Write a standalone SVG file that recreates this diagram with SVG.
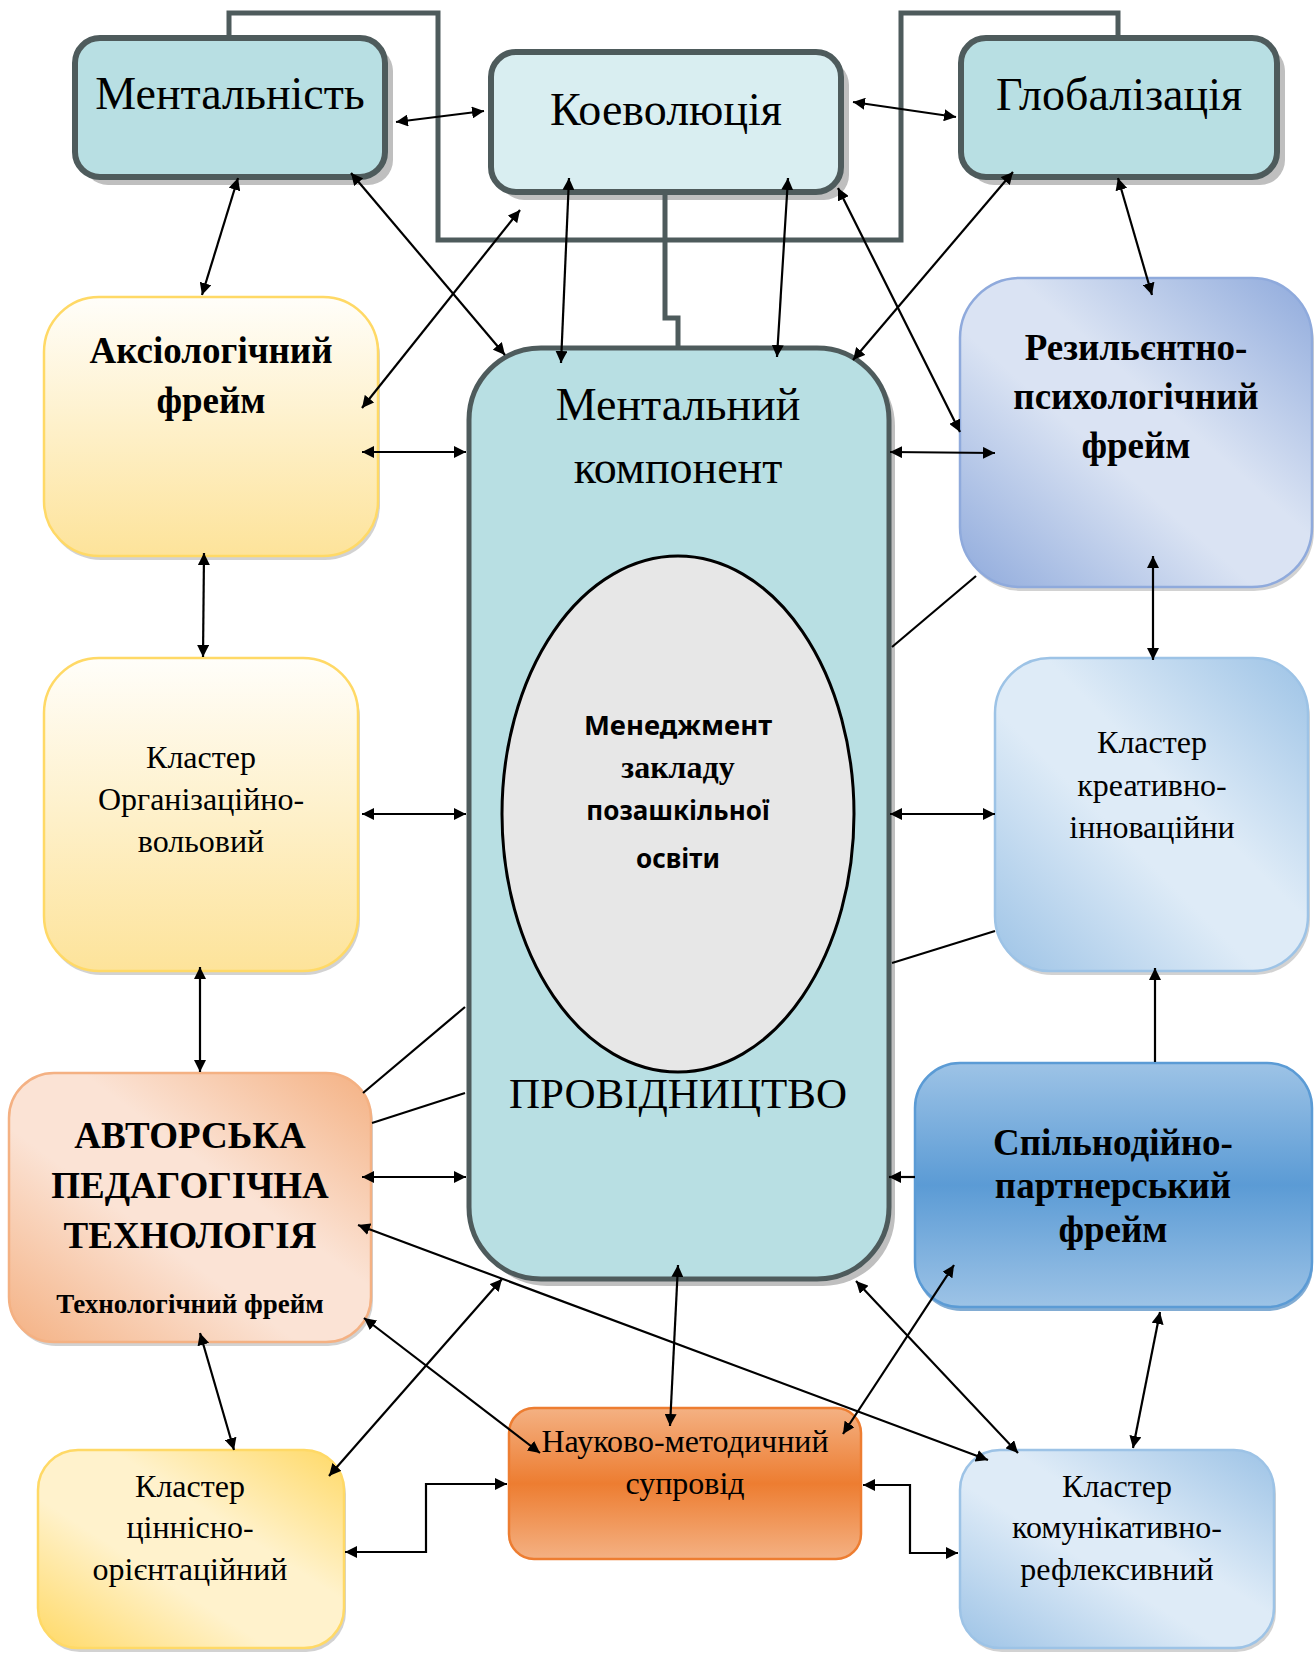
<svg xmlns="http://www.w3.org/2000/svg" width="1315" height="1654" viewBox="0 0 1315 1654">
<style>
.serif{font-family:"Liberation Serif","Times New Roman",serif;fill:#000;text-anchor:middle}
.top{font-size:46px}
.big{font-size:46px}
.bold{font-weight:bold;font-size:37px}
.reg{font-size:32px}
.sans{font-family:"Noto Sans","Open Sans",sans-serif;font-weight:bold;font-size:26px;text-anchor:middle}
.dark{stroke:#4e5b5c;stroke-width:6}
.shadow{fill:#bfbfbf}
.soft{fill:#7f7f7f;fill-opacity:0.35}
.conn line,.conn polyline{stroke:#000;stroke-width:2.2;fill:none}
.bi{marker-start:url(#ah);marker-end:url(#ah)}
.one{marker-end:url(#ah)}
.conn .frame{stroke:#4e5b5c;stroke-width:5;fill:none}
</style>
<defs>
<marker id="ah" viewBox="0 0 12 12" refX="12" refY="6" markerWidth="12" markerHeight="12" markerUnits="userSpaceOnUse" orient="auto-start-reverse"><path d="M0,0 L12,6 L0,12 z" fill="#000"/></marker>
<linearGradient id="gYellowV" x1="0" y1="0" x2="0" y2="1"><stop offset="0" stop-color="#fffefa"/><stop offset="1" stop-color="#fde39a"/></linearGradient>
<linearGradient id="gYellowD" x1="1" y1="0" x2="0" y2="1"><stop offset="0" stop-color="#ffd966"/><stop offset="0.38" stop-color="#fff2cc"/><stop offset="0.62" stop-color="#fff2cc"/><stop offset="1" stop-color="#ffd966"/></linearGradient>
<linearGradient id="gPeachD" x1="1" y1="0" x2="0" y2="1"><stop offset="0" stop-color="#f4b183"/><stop offset="0.4" stop-color="#fbe3d5"/><stop offset="0.6" stop-color="#fbe3d5"/><stop offset="1" stop-color="#f4b183"/></linearGradient>
<linearGradient id="gBlueFrame" x1="1" y1="0" x2="0" y2="1"><stop offset="0" stop-color="#8faadc"/><stop offset="0.42" stop-color="#dae3f3"/><stop offset="0.58" stop-color="#dae3f3"/><stop offset="1" stop-color="#8faadc"/></linearGradient>
<linearGradient id="gBlueLight" x1="1" y1="0" x2="0" y2="1"><stop offset="0" stop-color="#9dc3e6"/><stop offset="0.42" stop-color="#deebf7"/><stop offset="0.58" stop-color="#deebf7"/><stop offset="1" stop-color="#9dc3e6"/></linearGradient>
<linearGradient id="gBlueV" x1="0" y1="0" x2="0" y2="1"><stop offset="0" stop-color="#9dc3e6"/><stop offset="0.5" stop-color="#5b9bd5"/><stop offset="1" stop-color="#9dc3e6"/></linearGradient>
<linearGradient id="gOrangeV" x1="0" y1="0" x2="0" y2="1"><stop offset="0" stop-color="#f4b183"/><stop offset="0.5" stop-color="#ed7d31"/><stop offset="1" stop-color="#f4b183"/></linearGradient>
</defs>
<rect width="1315" height="1654" fill="#fff"/>

<g id="mentalnist">
<rect class="shadow" x="83" y="46" width="310" height="139" rx="25"/>
<rect class="dark" x="75" y="38" width="310" height="139" rx="25" fill="#b8dfe3"/>
<text class="serif top" x="230" y="109">Ментальність</text>
</g>
<g id="koevoliutsiia">
<rect class="shadow" x="499" y="60" width="350" height="140" rx="25"/>
<rect class="dark" x="491" y="52" width="350" height="140" rx="25" fill="#d9eef1"/>
<text class="serif top" x="666" y="125">Коеволюція</text>
</g>
<g id="hlobalizatsiia">
<rect class="shadow" x="969" y="46" width="316" height="139" rx="25"/>
<rect class="dark" x="961" y="38" width="316" height="139" rx="25" fill="#b8dfe3"/>
<text class="serif top" x="1119" y="110">Глобалізація</text>
</g>

<g id="mentalnyi-komponent">
<rect class="shadow" x="475" y="354" width="420" height="932" rx="72"/>
<rect x="469" y="348" width="420" height="931" rx="72" fill="#b8dfe3" stroke="#4e5b5c" stroke-width="5"/>
<text class="serif big" x="678" y="420">Ментальний</text>
<text class="serif big" x="678" y="483">компонент</text>
<text class="serif" x="678" y="1108" style="font-size:43px">ПРОВІДНИЦТВО</text>
</g>
<g id="menedzhment">
<ellipse cx="678" cy="814" rx="176" ry="258" fill="#e7e7e7" stroke="#000" stroke-width="3"/>
<text class="sans" x="678" y="735" style="font-size:27.5px">Менеджмент</text>
<text class="serif" x="678" y="778" style="font-size:32px;font-weight:bold">закладу</text>
<text class="sans" x="678" y="820">позашкільної</text>
<text class="sans" x="678" y="868">освіти</text>
</g>

<g id="aksiolohichnyi">
<rect class="soft" x="46" y="301" width="334" height="259" rx="55"/>
<rect x="44" y="297" width="334" height="259" rx="55" fill="url(#gYellowV)" stroke="#ffd966" stroke-width="2.5"/>
<text class="serif bold" x="211" y="363">Аксіологічний</text>
<text class="serif bold" x="211" y="413">фрейм</text>
</g>
<g id="orhanizatsiino">
<rect class="soft" x="46" y="662" width="314" height="313" rx="55"/>
<rect x="44" y="658" width="314" height="313" rx="55" fill="url(#gYellowV)" stroke="#ffd966" stroke-width="2.5"/>
<text class="serif reg" x="201" y="768">Кластер</text>
<text class="serif reg" x="201" y="810">Організаційно-</text>
<text class="serif reg" x="201" y="852">вольовий</text>
</g>
<g id="avtorska">
<rect class="soft" x="11" y="1077" width="362" height="269" rx="45"/>
<rect x="9" y="1073" width="362" height="269" rx="45" fill="url(#gPeachD)" stroke="#f4b183" stroke-width="2.5"/>
<text class="serif bold" x="190" y="1148">АВТОРСЬКА</text>
<text class="serif bold" x="190" y="1198">ПЕДАГОГІЧНА</text>
<text class="serif bold" x="190" y="1248">ТЕХНОЛОГІЯ</text>
<text class="serif" x="190" y="1313" style="font-size:27px;font-weight:bold">Технологічний фрейм</text>
</g>
<g id="tsinnisno">
<rect class="soft" x="40" y="1454" width="306" height="198" rx="40"/>
<rect x="38" y="1450" width="306" height="198" rx="40" fill="url(#gYellowD)" stroke="#ffd966" stroke-width="2.5"/>
<text class="serif reg" x="190" y="1497">Кластер</text>
<text class="serif reg" x="190" y="1538">ціннісно-</text>
<text class="serif reg" x="190" y="1580">орієнтаційний</text>
</g>
<g id="naukovo">
<rect x="509" y="1408" width="352" height="151" rx="25" fill="url(#gOrangeV)" stroke="#ed7d31" stroke-width="2.5"/>
<text class="serif reg" x="685" y="1452">Науково-методичний</text>
<text class="serif reg" x="685" y="1494">супровід</text>
</g>
<g id="rezylientno">
<rect class="soft" x="962" y="282" width="352" height="309" rx="60"/>
<rect x="960" y="278" width="352" height="309" rx="60" fill="url(#gBlueFrame)" stroke="#8faadc" stroke-width="2.5"/>
<text class="serif bold" x="1136" y="360">Резильєнтно-</text>
<text class="serif bold" x="1136" y="409">психологічний</text>
<text class="serif bold" x="1136" y="458">фрейм</text>
</g>
<g id="kreatyvno">
<rect class="soft" x="997" y="662" width="313" height="313" rx="55"/>
<rect x="995" y="658" width="313" height="313" rx="55" fill="url(#gBlueLight)" stroke="#9dc3e6" stroke-width="2.5"/>
<text class="serif reg" x="1152" y="753">Кластер</text>
<text class="serif reg" x="1152" y="796">креативно-</text>
<text class="serif reg" x="1152" y="838">інноваційни</text>
</g>
<g id="spilnodiino">
<rect x="916" y="1067" width="397" height="244" rx="45" fill="#2e75b6" fill-opacity="0.6"/>
<rect x="915" y="1063" width="397" height="244" rx="45" fill="url(#gBlueV)" stroke="#5b9bd5" stroke-width="2.5"/>
<text class="serif bold" x="1113" y="1155">Спільнодійно-</text>
<text class="serif bold" x="1113" y="1198">партнерський</text>
<text class="serif bold" x="1113" y="1242">фрейм</text>
</g>
<g id="komunikatyvno">
<rect class="soft" x="962" y="1454" width="314" height="198" rx="40"/>
<rect x="960" y="1450" width="314" height="198" rx="40" fill="url(#gBlueLight)" stroke="#9dc3e6" stroke-width="2.5"/>
<text class="serif reg" x="1117" y="1497">Кластер</text>
<text class="serif reg" x="1117" y="1538">комунікативно-</text>
<text class="serif reg" x="1117" y="1580">рефлексивний</text>
</g>

<g id="connectors" class="conn">
<polyline class="frame" points="229,36 229,13 438,13 438,240 901,240 901,13 1118,13 1118,36"/>
<polyline class="frame" points="665,195 665,318 678,318 678,346"/>
<line class="bi" x1="396" y1="122" x2="484" y2="111"/>
<line class="bi" x1="853" y1="102" x2="956" y2="117"/>
<line class="bi" x1="238" y1="178" x2="202" y2="295"/>
<line class="bi" x1="351" y1="173" x2="505" y2="355"/>
<line class="bi" x1="520" y1="210" x2="362" y2="408"/>
<line class="bi" x1="569" y1="178" x2="561" y2="363"/>
<line class="bi" x1="788" y1="178" x2="777" y2="357"/>
<line class="bi" x1="1013" y1="172" x2="853" y2="360"/>
<line class="bi" x1="838" y1="188" x2="960" y2="432"/>
<line class="bi" x1="1118" y1="178" x2="1152" y2="295"/>
<line class="bi" x1="362" y1="452" x2="466" y2="452"/>
<line class="bi" x1="204" y1="553" x2="203" y2="657"/>
<line class="bi" x1="362" y1="814" x2="466" y2="814"/>
<line class="bi" x1="200" y1="967" x2="200" y2="1072"/>
<line class="bi" x1="890" y1="452" x2="995" y2="453"/>
<line class="bi" x1="1153" y1="556" x2="1153" y2="660"/>
<line class="bi" x1="890" y1="814" x2="995" y2="814"/>
<line class="one" x1="1155" y1="1062" x2="1155" y2="968"/>
<line class="one" x1="915" y1="1177" x2="889" y2="1177"/>
<line class="bi" x1="362" y1="1177" x2="466" y2="1177"/>
<line class="bi" x1="358" y1="1225" x2="988" y2="1460"/>
<line class="bi" x1="364" y1="1318" x2="540" y2="1453"/>
<line class="bi" x1="200" y1="1333" x2="234" y2="1450"/>
<line class="bi" x1="329" y1="1476" x2="502" y2="1279"/>
<line class="bi" x1="678" y1="1265" x2="670" y2="1426"/>
<line class="bi" x1="954" y1="1265" x2="843" y2="1434"/>
<line class="bi" x1="856" y1="1281" x2="1018" y2="1453"/>
<line class="bi" x1="1160" y1="1312" x2="1133" y2="1448"/>
<polyline class="bi" points="345,1552 426,1552 426,1484 507,1484"/>
<polyline class="bi" points="863,1485 910,1485 910,1553 958,1553"/>
<line x1="465" y1="1007" x2="363" y2="1093"/>
<line x1="465" y1="1093" x2="372" y2="1123"/>
<line x1="892" y1="647" x2="976" y2="576"/>
<line x1="892" y1="963" x2="995" y2="931"/>
</g>
</svg>
